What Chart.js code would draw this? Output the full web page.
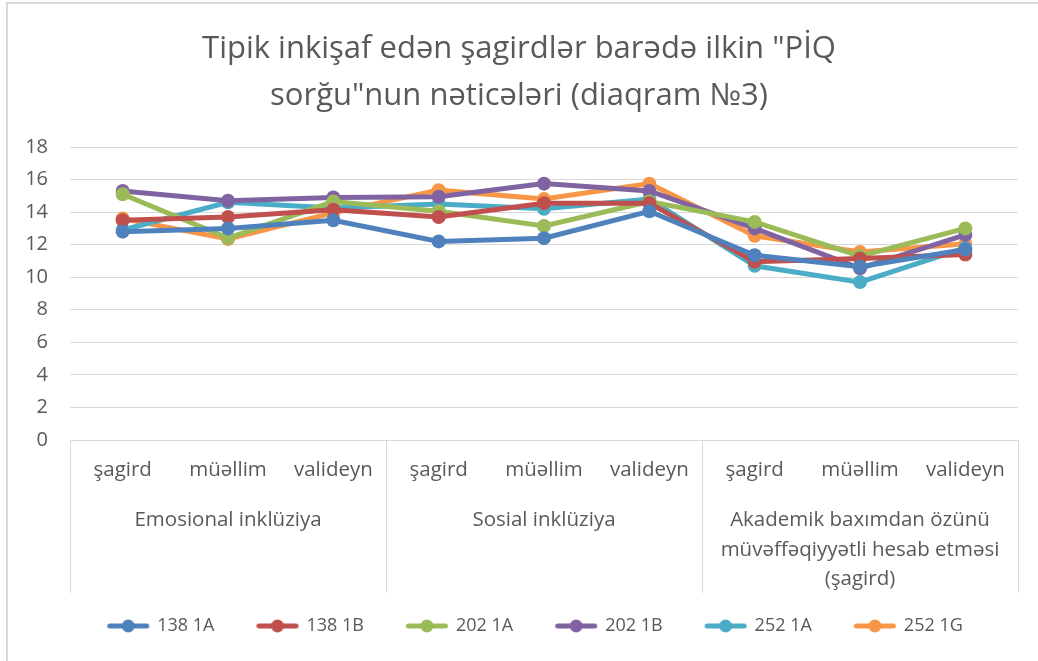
<!DOCTYPE html>
<html>
<head>
<meta charset="utf-8">
<script src="https://cdn.jsdelivr.net/npm/chart.js@4"></script>
<style>
html,body{margin:0;padding:0;background:#fff;}
#wrap{position:relative;width:1038px;height:661px;}
</style>
</head>
<body>
<div id="wrap"><canvas id="c" width="1038" height="661"></canvas></div>
<script>
const categories = ["şagird","müəllim","valideyn","şagird","müəllim","valideyn","şagird","müəllim","valideyn"];
const groups = [["Emosional inklüziya"],["Sosial inklüziya"],["Akademik baxımdan özünü","müvəffəqiyyətli hesab etməsi","(şagird)"]];
const yTicks = [0,2,4,6,8,10,12,14,16,18];
const seriesNames = ["138 1A","138 1B","202 1A","202 1B","252 1A","252 1G"];
const s138_1A = [12.8,13.0,13.5,12.2,12.4,14.05,11.35,10.65,11.7];
const s138_1B = [13.5,13.7,14.15,13.7,14.55,14.55,10.95,11.15,11.4];
const s202_1A = [15.1,12.4,14.65,14.05,13.15,14.65,13.4,11.3,13.0];
const s202_1B = [15.3,14.7,14.9,14.95,15.75,15.3,13.0,10.55,12.6];
const s252_1A = [12.9,14.6,14.25,14.5,14.2,14.8,10.7,9.7,11.8];
const s252_1G = [13.6,12.35,13.95,15.35,14.8,15.75,12.55,11.55,12.05];
const colors = ["#4f81bd","#c0504d","#9bbb59","#8064a2","#4bacc6","#f79646"];

const FONT = "'Open Sans', sans-serif";
const TXT = "#595959";

const BOX_W = 73, EXT = 10;
function legendIcon(color){
  const cv = document.createElement('canvas');
  cv.width = BOX_W + 2*EXT; cv.height = 16;
  const g = cv.getContext('2d');
  g.strokeStyle = color; g.lineWidth = 5; g.lineCap = 'round';
  g.beginPath(); g.moveTo(44.5,8); g.lineTo(81.5,8); g.stroke();
  g.fillStyle = color; g.beginPath(); g.arc(63,8,6.5,0,Math.PI*2); g.fill();
  return cv;
}

const allData = [s138_1A,s138_1B,s202_1A,s202_1B,s252_1A,s252_1G];
const datasets = allData.map((d,i)=>({
  label: seriesNames[i],
  data: d,
  borderColor: colors[i],
  backgroundColor: colors[i],
  borderWidth: 5,
  pointRadius: 7,
  pointHoverRadius: 7,
  pointBorderWidth: 0,
  tension: 0,
  fill: false
}));

const frame = {
  id: 'frame',
  beforeDraw(chart){
    const ctx = chart.ctx;
    ctx.save();
    ctx.strokeStyle = '#d9d9d9'; ctx.lineWidth = 2;
    ctx.strokeRect(7, 3, 1100, 700);
    ctx.restore();
  },
  afterDraw(chart){
    const x = chart.scales.x, x2 = chart.scales.x2, ctx = chart.ctx;
    ctx.save();
    ctx.strokeStyle = '#d9d9d9'; ctx.lineWidth = 1;
    const top = chart.chartArea.bottom;
    const bottom = x2.top + 95;
    [-0.5, 2.5, 5.5, 8.5].forEach(v=>{
      const px = Math.round(x.getPixelForValue(v)) + 0.5;
      ctx.beginPath(); ctx.moveTo(px, top); ctx.lineTo(px, bottom); ctx.stroke();
    });
    ctx.restore();
  }
};

new Chart(document.getElementById('c'), {
  type: 'line',
  data: { labels: categories, datasets },
  plugins: [frame],
  options: {
    responsive: false,
    animation: false,
    devicePixelRatio: 1,
    layout: { padding: { left: 20, right: 20, top: 26, bottom: 16 } },
    plugins: {
      title: {
        display: true,
        text: ['Tipik inkişaf edən şagirdlər barədə ilkin "PİQ','sorğu"nun nəticələri (diaqram №3)'],
        color: TXT,
        font: { family: FONT, size: 31, weight: 'normal', lineHeight: 1.5 },
        padding: { top: 0, bottom: 28 }
      },
      legend: {
        position: 'bottom',
        labels: {
          color: TXT,
          font: { family: FONT, size: 18 },
          usePointStyle: true,
          pointStyleWidth: BOX_W,
          boxHeight: 16,
          padding: 10,
          generateLabels(chart){
            return chart.data.datasets.map((ds,i)=>({
              text: ds.label,
              fontColor: TXT,
              pointStyle: legendIcon(colors[i]),
              lineWidth: 0,
              strokeStyle: colors[i],
              fillStyle: colors[i],
              datasetIndex: i,
              hidden: false
            }));
          }
        }
      },
      tooltip: { enabled: false }
    },
    scales: {
      x: {
        type: 'category',
        offset: true,
        grid: { display: false },
        border: { display: true, color: '#d9d9d9', width: 1 },
        ticks: { color: TXT, font: { family: FONT, size: 20.5 }, padding: 10, autoSkip: false, maxRotation: 0 },
        afterFit(s){ s.height = 58; }
      },
      x2: {
        type: 'category',
        position: 'bottom',
        labels: groups,
        offset: true,
        grid: { display: false },
        border: { display: false },
        ticks: { color: TXT, font: { family: FONT, size: 20.5, lineHeight: 1.42 }, padding: 0, autoSkip: false, maxRotation: 0 },
        afterFit(s){ s.height = 109; }
      },
      y: {
        min: 0, max: 18,
        afterBuildTicks(s){ s.ticks = yTicks.map(v=>({value:v})); },
        grid: { color: '#d9d9d9', lineWidth: 1, drawTicks: false },
        border: { display: false },
        ticks: { color: TXT, font: { family: FONT, size: 20 }, padding: 22 },
        afterFit(s){ s.width = 50; }
      }
    }
  }
});
</script>
</body>
</html>
